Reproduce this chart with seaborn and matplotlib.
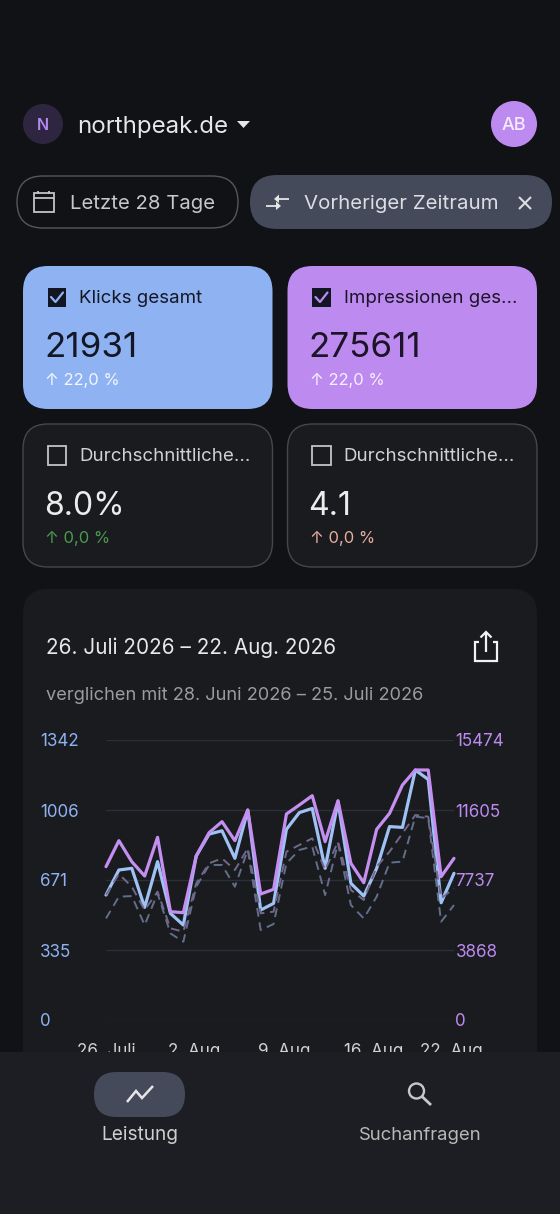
import numpy as np
import pandas as pd
import matplotlib
matplotlib.use('Agg')
import matplotlib.pyplot as plt
from matplotlib.patches import FancyBboxPatch, Circle, Polygon, Rectangle
import seaborn as sns

# DATA
DAYS = list(range(28))
CLICKS = [599,719,727,540,759,511,455,786,891,907,775,1006,527,559,
		  914,994,1014,727,1046,655,594,727,927,923,1198,1153,562,703]
CLICKS_PREV = [487,591,594,455,607,415,375,639,743,743,639,815,431,460,
			   751,815,831,599,847,551,487,591,754,759,975,967,471,551]
IMPRESSIONS = [8474,9911,8750,7958,10095,5987,5932,9063,10353,10961,9911,11605,6963,7221,
			   11384,11882,12397,9855,12121,8658,7590,10537,11421,12987,13816,13816,7921,8934]
IMPRESSIONS_PREV = [6908,8068,7368,6079,7092,5066,4881,7552,8658,8934,8289,9487,5894,5987,
					9302,9671,10039,8289,9855,7184,6631,8474,9302,10315,11329,11236,6723,7276]
CLICK_TICKS = [0,335,671,1006,1342]
IMPRESSION_TICKS = [0,3868,7737,11605,15474]
DATE_TICKS = [0,7,14,21,27]
DATE_LABELS = ['26. Juli','2. Aug.','9. Aug.','16. Aug.','22. Aug.']

BG = '#101216'
CARD = '#191b1f'
NAV = '#1c1e23'
BLUE = '#8fb2f2'
PURPLE = '#bd8af0'
CHIP = '#454a5a'
W, H = 560, 1214

sns.set_theme(style='dark')
plt.rcParams['font.family'] = ['Inter', 'DejaVu Sans']

fig = plt.figure(figsize=(W/100, H/100), dpi=100, facecolor=BG)

def pixel_axes(zorder):
	ax = fig.add_axes([0,0,1,1], zorder=zorder)
	ax.set_xlim(0,W)
	ax.set_ylim(H,0)
	ax.axis('off')
	return ax

def txt(ax, x, y, s, px, color, ha='left', **kw):
	ax.text(x, y, s, fontsize=px*0.72, color=color, ha=ha, va='baseline', **kw)

def box(ax, x0, y0, x1, y1, r, fc, ec='none', lw=1.0):
	ax.add_patch(FancyBboxPatch((x0+r,y0+r), x1-x0-2*r, y1-y0-2*r,
								boxstyle=f'round,pad={r},rounding_size={r}',
								fc=fc, ec=ec, lw=lw))

def line(ax, xs, ys, color, lw=1.6):
	ax.plot(xs, ys, color=color, lw=lw, solid_capstyle='butt', solid_joinstyle='miter')

# BACKGROUND UI
bg = pixel_axes(0)
bg.add_patch(Circle((43,124), 20, fc='#2e2640', ec='none'))
txt(bg, 43, 130, 'N', 16, '#b388f0', ha='center', fontweight='semibold')
txt(bg, 77, 133, 'northpeak.de', 24, '#e6e6e6')
bg.add_patch(Polygon([(237,121),(250,121),(243.5,128)], fc='#e6e6e6', ec='none'))
bg.add_patch(Circle((514,124), 23, fc=PURPLE, ec='none'))
txt(bg, 514, 130, 'AB', 18, '#f4ecfd', ha='center', fontweight='medium')

# CHIPS
box(bg, 17, 176, 238, 228, 26, 'none', ec='#55575c', lw=1.0)
bg.add_patch(Rectangle((33.5,193), 20, 19, fc='none', ec='#c4c4c4', lw=1.3))
line(bg, [33.5,53.5], [198,198], '#c4c4c4', 1.3)
line(bg, [38,38], [190.5,194], '#c4c4c4', 1.3)
line(bg, [49,49], [190.5,194], '#c4c4c4', 1.3)
txt(bg, 70, 209, 'Letzte 28 Tage', 20.3, '#c8c8c8')
box(bg, 250, 175, 552, 229, 27, CHIP)
line(bg, [266,277], [206,206], '#e6e6e6', 1.3)
bg.add_patch(Polygon([(276,201.5),(276,210),(281,206)], fc='#e6e6e6', ec='none'))
line(bg, [278,289], [199,199], '#e6e6e6', 1.3)
bg.add_patch(Polygon([(279,194.5),(279,203),(274,199)], fc='#e6e6e6', ec='none'))
txt(bg, 304, 209, 'Vorheriger Zeitraum', 20.4, '#dcdee4')
line(bg, [519,531], [197,209], '#dcdee4', 1.5)
line(bg, [531,519], [197,209], '#dcdee4', 1.5)

# METRIC CARDS
def card(x0, y0, fc, ec, checked, label, value, delta, label_c, value_c, delta_c, value_px=35):
	box(bg, x0, y0, x0+249.5, y0+143, 25, fc, ec=ec, lw=1.0)
	if checked:
		bg.add_patch(Rectangle((x0+24.5,y0+22), 18.5, 18.5, fc='#121522', ec='none'))
		bg.plot([x0+28,x0+32.5,x0+40], [y0+31,y0+36,y0+26.5], color=fc, lw=1.6)
	else:
		bg.add_patch(Rectangle((x0+24.5,y0+22), 18.5, 18.5, fc='none', ec='#c4c4c4', lw=1.3))
	txt(bg, x0+56, y0+37, label, 18.7, label_c)
	txt(bg, x0+21, y0+91, value, value_px, value_c)
	txt(bg, x0+22, y0+119, delta, 16.6, delta_c)

card(23, 266, BLUE, 'none', True, 'Klicks gesamt', '21931', '↑ 22,0 %', '#141826', '#141826', '#f4f6fd')
card(287.5, 266, PURPLE, 'none', True, 'Impressionen ges...', '275611', '↑ 22,0 %', '#1c1428', '#1c1428', '#f8f0fe')
card(23, 424, CARD, '#45474c', False, 'Durchschnittliche...', '8.0%', '↑ 0,0 %', '#d2d2d2', '#ececec', '#4a9a4f', 32)
card(287.5, 424, CARD, '#45474c', False, 'Durchschnittliche...', '4.1', '↑ 0,0 %', '#d2d2d2', '#ececec', '#e8ad9f', 32)

# CHART CARD
box(bg, 23, 589, 537, 1120, 25, CARD)
txt(bg, 46, 654, '26. Juli 2026 – 22. Aug. 2026', 20.7, '#e8e8e8')
txt(bg, 46, 700, 'verglichen mit 28. Juni 2026 – 25. Juli 2026', 18.2, '#9c9c9c')
line(bg, [479,475,475,497,497,493], [642,642,661,661,642,642], '#f2f2f2', 1.6)
line(bg, [486,486], [652,632], '#f2f2f2', 1.6)
line(bg, [480.5,486,491.5], [637.5,632,637.5], '#f2f2f2', 1.6)

# CHART
ax = fig.add_axes([106/W, 1-1020/H, 348/W, 280/H], zorder=1)
ax2 = ax.twinx()
ax2.set_zorder(2)
sns.lineplot(x=DAYS, y=CLICKS_PREV, ax=ax, color='#626f8c', lw=1.4, linestyle=(0,(4.5,3)), errorbar=None, clip_on=False)
sns.lineplot(x=DAYS, y=CLICKS, ax=ax, color='#9fc2f5', lw=2.3, errorbar=None, clip_on=False)
sns.lineplot(x=DAYS, y=IMPRESSIONS_PREV, ax=ax2, color='#73678c', lw=1.4, linestyle=(0,(4.5,3)), errorbar=None, clip_on=False)
sns.lineplot(x=DAYS, y=IMPRESSIONS, ax=ax2, color='#c48ff0', lw=2.3, errorbar=None, clip_on=False)

for a in (ax, ax2):
	a.set_facecolor('none')
	a.set_xlim(0,27)
	a.set_ylabel('')
	for s in a.spines.values():
		s.set_visible(False)
ax.set_ylim(0,1342)
ax2.set_ylim(0,15474)
ax.set_yticks(CLICK_TICKS)
ax.set_yticklabels([str(v) for v in CLICK_TICKS], color=BLUE, fontsize=17*0.72, ha='left')
ax.tick_params(axis='y', length=0, pad=66*0.72)
ax2.set_yticks(IMPRESSION_TICKS)
ax2.set_yticklabels([str(v) for v in IMPRESSION_TICKS], color=PURPLE, fontsize=17*0.72)
ax2.tick_params(axis='y', length=0, pad=1.5*0.72)
ax2.grid(False)
ax.grid(axis='y', color='#2c2f34', lw=1.0)
ax.grid(axis='x', visible=False)
ax.set_xticks(DATE_TICKS)
ax.set_xticklabels(DATE_LABELS, color='#d2d2d2', fontsize=17*0.72)
ax.tick_params(axis='x', length=0, pad=23*0.72)

# BOTTOM NAV
nav = pixel_axes(3)
nav.add_patch(Rectangle((0,1052), W, H-1052, fc=NAV, ec='none'))
box(nav, 94, 1072, 185, 1117, 22.5, CHIP)
line(nav, [127,136,142,153], [1102,1091,1098,1086], '#e6e6e6', 1.8)
txt(nav, 140, 1140, 'Leistung', 19, '#cfcfcf', ha='center')
nav.add_patch(Circle((416.5,1091), 7.5, fc='none', ec='#c8c8c8', lw=1.7))
line(nav, [422,431], [1096.5,1105], '#c8c8c8', 2.0)
txt(nav, 420, 1140, 'Suchanfragen', 18.5, '#b8b8b8', ha='center')

fig.savefig('out.png', dpi=100, facecolor=BG)
